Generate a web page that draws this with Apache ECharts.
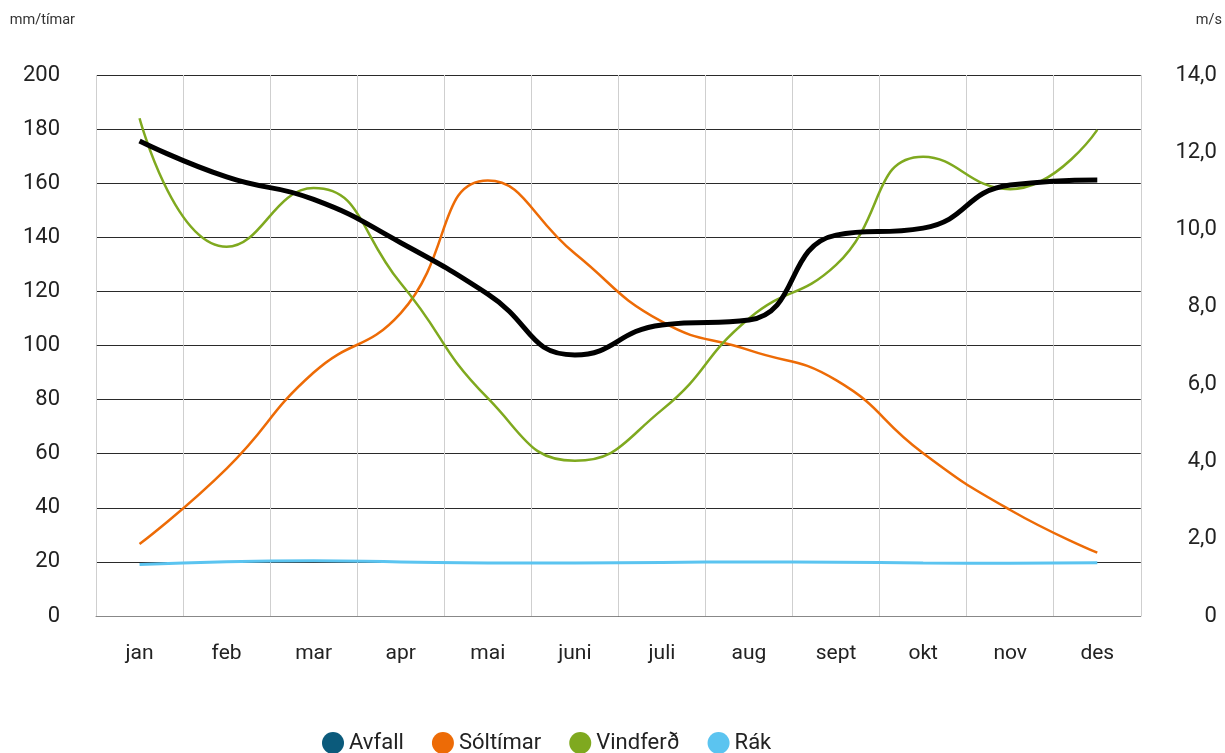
<!DOCTYPE html>
<html>
<head>
<meta charset="utf-8">
<script src="https://cdn.jsdelivr.net/npm/echarts@6/dist/echarts.min.js"></script>
<style>
html,body{margin:0;padding:0;background:#fff;}
#chart{width:1225px;height:753px;}
</style>
</head>
<body>
<div id="chart"></div>
<script>
const categories = ['jan','feb','mar','apr','mai','juni','juli','aug','sept','okt','nov','des'];
const avfall    = [175.6, 162.3, 154, 138, 119, 96.5, 107.6, 109.4, 140.8, 143.4, 159.3, 161.2];
const soltimar  = [26.6, 54.5, 90, 112, 161, 134, 108.8, 98.3, 87.2, 60.2, 39.2, 23.4];
const vindferd  = [184, 136.5, 158.2, 123, 80.5, 57.4, 76.2, 110, 129.8, 169.8, 157.8, 179.7];
const rak       = [19, 20.1, 20.4, 20, 19.6, 19.6, 19.8, 20, 19.9, 19.6, 19.5, 19.7];
const leftTicks  = {min: 0, max: 200, interval: 20};
const rightTicks = {min: 0, max: 14, interval: 2};

const font = 'Roboto, "DejaVu Sans", sans-serif';
const chart = echarts.init(document.getElementById('chart'), null, {renderer: 'canvas'});
chart.setOption({
  animation: false,
  textStyle: {fontFamily: font},
  grid: {left: 96, right: 84, top: 75, bottom: 137, containLabel: false},
  legend: {
    top: 732, left: 322, padding: 0,
    icon: 'circle', itemWidth: 22, itemHeight: 22, itemGap: 28,
    textStyle: {fontSize: 22, color: '#222', fontFamily: font},
    data: [
      {name: 'Avfall', itemStyle: {color: '#0b5a7b'}},
      {name: 'Sóltímar', itemStyle: {color: '#ed6b06'}},
      {name: 'Vindferð', itemStyle: {color: '#7fa91f'}},
      {name: 'Rák', itemStyle: {color: '#5bc4f0'}}
    ]
  },
  xAxis: {
    type: 'category', data: categories, boundaryGap: true,
    axisLine: {show: true, lineStyle: {color: '#888', width: 1}},
    axisTick: {show: false},
    axisLabel: {fontSize: 21, color: '#222', margin: 27, fontFamily: font},
    splitLine: {show: true, lineStyle: {color: '#cfcfcf', width: 1}}
  },
  yAxis: [
    {
      type: 'value', min: leftTicks.min, max: leftTicks.max, interval: leftTicks.interval,
      name: 'mm/tímar', nameLocation: 'end', nameGap: 47,
      nameTextStyle: {fontSize: 14.5, color: '#333', align: 'right', padding: [0, 21, 0, 0], fontFamily: font},
      axisLine: {show: false}, axisTick: {show: false},
      axisLabel: {fontSize: 22, color: '#222', margin: 36, fontFamily: font},
      splitLine: {show: true, lineStyle: {color: '#2a2a2a', width: 1}}
    },
    {
      type: 'value', min: rightTicks.min, max: rightTicks.max, interval: rightTicks.interval,
      name: 'm/s', nameLocation: 'end', nameGap: 47,
      nameTextStyle: {fontSize: 14.5, color: '#333', align: 'left', padding: [0, 0, 0, 55], fontFamily: font},
      axisLine: {show: false}, axisTick: {show: false},
      axisLabel: {fontSize: 22, color: '#222', margin: 76, align: 'right', fontFamily: font,
        formatter: v => v === 0 ? '0' : v.toFixed(1).replace('.', ',')},
      splitLine: {show: false}
    }
  ],
  series: [
    {name: 'Rák', type: 'line', data: rak, smooth: 0.5, showSymbol: false, symbol: 'none',
      itemStyle: {color: '#5bc4f0'}, lineStyle: {color: '#5bc4f0', width: 3}, z: 3},
    {name: 'Sóltímar', type: 'line', data: soltimar, smooth: 0.5, showSymbol: false, symbol: 'none',
      itemStyle: {color: '#ed6b06'}, lineStyle: {color: '#ed6b06', width: 2.5}, z: 4},
    {name: 'Vindferð', type: 'line', data: vindferd, smooth: 0.5, showSymbol: false, symbol: 'none',
      itemStyle: {color: '#7fa91f'}, lineStyle: {color: '#7fa91f', width: 2.5}, z: 5},
    {name: 'Avfall', type: 'line', data: avfall, smooth: 0.5, showSymbol: false, symbol: 'none',
      itemStyle: {color: '#0b5a7b'}, lineStyle: {color: '#000', width: 5}, z: 6}
  ]
});
</script>
</body>
</html>
